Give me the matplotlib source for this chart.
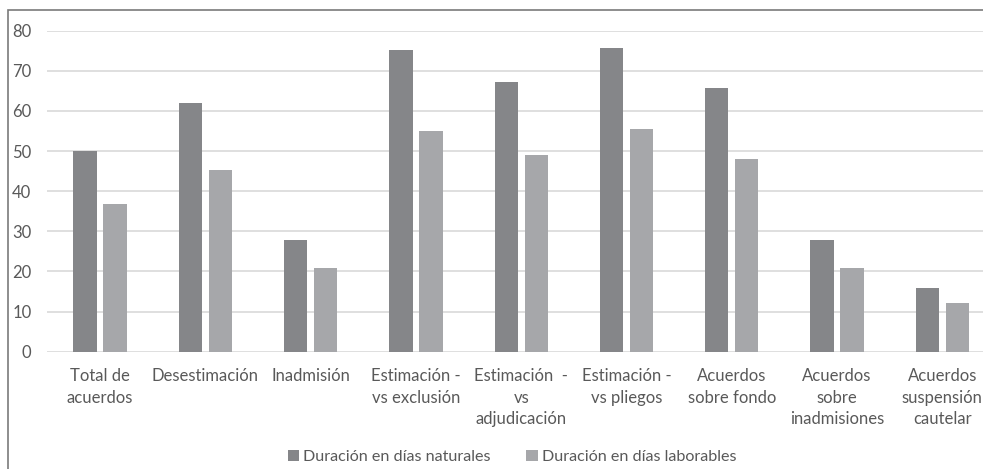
import numpy as np
import matplotlib
matplotlib.use('Agg')
import matplotlib.pyplot as plt
from matplotlib.patches import Rectangle

plt.rcParams['font.family'] = ['Lato', 'DejaVu Sans']

# ── Data ─────────────────────────────────────────────────────
CATEGORIES = ['Total de\nacuerdos', 'Desestimación', 'Inadmisión',
              'Estimación -\nvs exclusión', 'Estimación  -\nvs\nadjudicación',
              'Estimación -\nvs pliegos', 'Acuerdos\nsobre fondo',
              'Acuerdos\nsobre\ninadmisiones', 'Acuerdos\nsuspensión\ncautelar']
DIAS_NATURALES  = [50.0, 61.9, 27.9, 75.2, 67.3, 75.8, 65.6, 27.9, 15.8]
DIAS_LABORABLES = [36.9, 45.4, 20.9, 55.1, 49.1, 55.5, 48.0, 20.9, 12.1]
SERIES_LABELS   = ['Duración en días naturales', 'Duración en días laborables']
Y_TICKS         = [0, 10, 20, 30, 40, 50, 60, 70, 80]

# ── Style ────────────────────────────────────────────────────
W, H = 983, 469
DARK  = '#858689'
LIGHT = '#a6a7aa'
TEXT  = '#595959'
GRID  = '#d9d9d9'
BAR_W = 0.222
GAP   = 0.063
FS    = 12

fig = plt.figure(figsize=(W / 100, H / 100), dpi=100)

# outer chart frame
fig.patches.append(Rectangle((8 / W, -0.2), 2.0, 1.2 - 10 / H,
                             transform=fig.transFigure, fill=False,
                             edgecolor='#7a7a7a', lw=1.2))

ax = fig.add_axes([47.4 / W, 1 - 351.7 / H, (995 - 47.4) / W, 321 / H])

x = np.arange(len(CATEGORIES))
off = (BAR_W + GAP) / 2
ax.bar(x - off, DIAS_NATURALES, BAR_W, color=DARK, label=SERIES_LABELS[0], zorder=3)
ax.bar(x + off, DIAS_LABORABLES, BAR_W, color=LIGHT, label=SERIES_LABELS[1], zorder=3)

ax.set_xlim(-0.5, len(CATEGORIES) - 0.5)
ax.set_ylim(0, 80)
ax.set_yticks(Y_TICKS)
ax.set_xticks(x)
ax.set_xticklabels(CATEGORIES, linespacing=1.4)
ax.tick_params(axis='both', length=0, labelsize=FS, labelcolor=TEXT)
ax.tick_params(axis='y', pad=11.5)
ax.tick_params(axis='x', pad=12)

ax.yaxis.grid(True, color=GRID, lw=1.2, zorder=0)
ax.set_axisbelow(True)
for s in ax.spines.values():
    s.set_visible(False)
ax.patch.set_alpha(0)

fig.legend(loc='center', bbox_to_anchor=(512 / W, 1 - 457 / H), ncol=2,
           frameon=False, fontsize=11.6, labelcolor=TEXT,
           handlelength=0.7, handleheight=0.7, handletextpad=0.25,
           columnspacing=2.2)

fig.savefig('out.png', dpi=100)
